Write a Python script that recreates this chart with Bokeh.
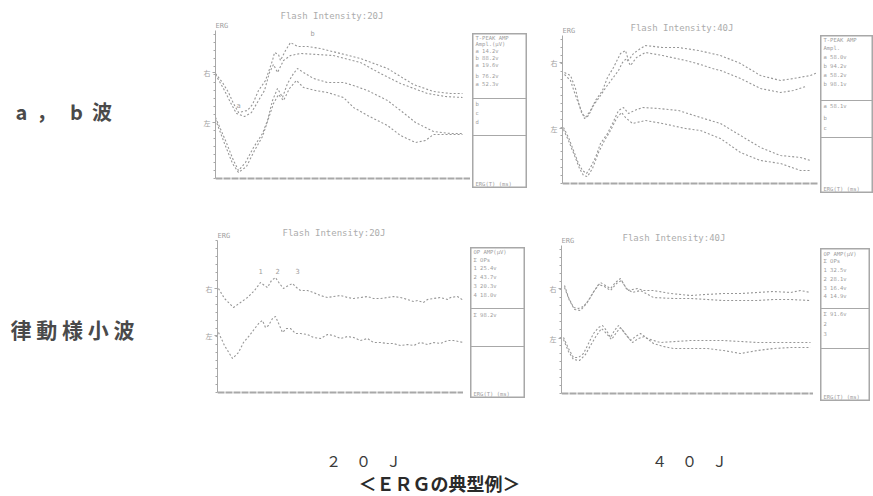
from bokeh.plotting import figure
from bokeh.layouts import row, column
from bokeh.models import Label, FixedTicker, Range1d, Span, Spacer
from bokeh.embed import file_html
from bokeh.resources import INLINE
from bokeh.core.properties import value

NB = "\u00a0"

# ---------------- texts ----------------
row_labels = ["a" + NB * 2 + "，" + NB * 3 + "b" + NB * 2 + "波", "律 動 様 小 波"]
flash_labels = ["２　０　Ｊ", "４　０　Ｊ"]
caption = "＜ＥＲＧの典型例＞"
panel_titles = ["Flash Intensity:20J", "Flash Intensity:40J",
                "Flash Intensity:20J", "Flash Intensity:40J"]
channel_labels = ["右", "左"]

# ---------------- a, b wave, 20 J (time ms, amplitude arbitrary) ----------------
tl_u1_t = [0, 7, 13, 18, 23, 32, 37, 43, 50, 57, 59, 63, 65, 70, 75, 82, 92, 105, 125, 145, 172, 198, 218, 235, 247]
tl_u1_v = [105, 96, 86, 75, 66, 68, 74, 88, 98, 118, 126, 124, 118, 128, 136, 132, 132, 130, 125, 120, 110, 94, 87, 85, 85]
tl_u2_t = [0, 8, 15, 21, 29, 36, 43, 49, 54, 58, 62, 68, 75, 85, 102, 118, 145, 165, 185, 212, 230, 247]
tl_u2_v = [104, 90, 76, 65, 62, 66, 78, 88, 106, 114, 106, 118, 123, 125, 124, 123, 116, 105, 95, 85, 82, 81]
tl_l1_t = [0, 10, 18, 23, 30, 38, 47, 52, 57, 62, 67, 72, 78, 82, 88, 98, 112, 128, 138, 152, 172, 185, 200, 218, 235, 247]
tl_l1_v = [61, 38, 18, 8, 16, 31, 45, 58, 78, 90, 81, 95, 105, 110, 106, 100, 96, 96, 93, 88, 78, 68, 56, 47, 45, 45]
tl_l2_t = [0, 9, 17, 23, 31, 39, 47, 53, 58, 63, 68, 74, 81, 88, 100, 112, 128, 138, 152, 172, 185, 200, 210, 218, 235, 247]
tl_l2_v = [59, 35, 15, 6, 12, 28, 42, 60, 75, 84, 78, 90, 98, 91, 88, 86, 81, 71, 63, 53, 43, 36, 38, 44, 44, 44]

# ---------------- a, b wave, 40 J ----------------
tr_u1_t = [2, 8, 13, 16, 19, 23, 28, 33, 40, 45, 51, 58, 63, 66, 71, 78, 83, 100, 116, 136, 158, 178, 198, 218, 231, 248, 255]
tr_u1_v = [111, 108, 95, 81, 71, 66, 73, 83, 93, 106, 116, 130, 133, 123, 130, 135, 138, 136, 136, 133, 128, 120, 108, 103, 105, 108, 111]
tr_u2_t = [2, 8, 13, 18, 22, 26, 31, 38, 44, 50, 56, 60, 64, 68, 74, 83, 100, 123, 138, 150, 158, 178, 198, 218, 231, 243]
tr_u2_v = [109, 103, 88, 75, 65, 68, 78, 88, 97, 105, 113, 121, 125, 118, 126, 131, 128, 123, 119, 115, 113, 105, 95, 91, 93, 97]
tr_l1_t = [1, 6, 11, 16, 20, 24, 28, 33, 38, 45, 50, 56, 61, 66, 72, 80, 96, 116, 138, 158, 178, 198, 218, 238, 248]
tr_l1_v = [56, 46, 33, 20, 13, 10, 16, 26, 40, 50, 60, 73, 76, 70, 73, 76, 75, 73, 66, 60, 48, 36, 28, 26, 23]
tr_l2_t = [1, 6, 12, 17, 21, 25, 30, 36, 42, 48, 54, 59, 63, 70, 83, 100, 123, 138, 158, 178, 198, 218, 238, 248]
tr_l2_v = [54, 43, 28, 15, 8, 7, 15, 31, 43, 53, 65, 71, 66, 60, 63, 60, 55, 53, 45, 31, 23, 20, 13, 13]

# ---------------- oscillatory potentials, 20 J ----------------
bl_u_t = [1, 7, 16, 23, 30, 37, 43, 47, 50, 54, 58, 62, 66, 71, 75, 79, 83, 90, 96, 103, 110, 116, 123, 130, 136,
          143, 150, 156, 163, 170, 176, 183, 190, 196, 200, 206, 210, 216, 223, 230, 233, 240, 246]
bl_u_v = [104, 94, 85, 90, 95, 102, 110, 107, 105, 112, 115, 109, 104, 107, 109, 105, 102, 102, 100, 97, 95, 96, 97, 95, 94,
          95, 96, 94, 94, 95, 96, 95, 93, 91, 92, 90, 93, 94, 95, 93, 95, 96, 92]
bl_l_t = [1, 7, 15, 21, 26, 32, 38, 42, 45, 48, 51, 55, 58, 62, 65, 69, 73, 78, 83, 90, 96, 103, 110, 116, 123,
          130, 136, 143, 150, 156, 163, 170, 176, 183, 190, 196, 203, 210, 216, 223, 230, 236, 246]
bl_l_v = [60, 47, 34, 40, 50, 57, 65, 70, 72, 65, 67, 74, 76, 67, 60, 64, 64, 59, 59, 58, 55, 54, 58, 57, 54,
          56, 55, 52, 54, 50, 50, 49, 49, 47, 48, 47, 50, 48, 50, 49, 52, 52, 50]

# ---------------- oscillatory potentials, 40 J ----------------
br_u1_t = [3, 7, 12, 17, 22, 27, 33, 39, 44, 49, 54, 59, 63, 66, 71, 76, 82, 92, 109, 129, 144, 162, 179, 196, 212, 229, 239, 249]
br_u1_v = [108, 96, 86, 85, 87, 93, 103, 111, 108, 105, 111, 115, 108, 103, 104, 105, 103, 103, 100, 98, 99, 100, 100, 101, 102, 101, 103, 101]
br_u2_t = [3, 8, 13, 19, 25, 31, 37, 43, 49, 55, 60, 65, 71, 79, 92, 112, 129, 146, 162, 179, 196, 212, 229, 249]
br_u2_v = [106, 93, 84, 83, 90, 100, 109, 107, 103, 110, 113, 105, 101, 103, 96, 95, 95, 94, 93, 93, 93, 94, 94, 93]
br_l1_t = [2, 7, 12, 17, 22, 27, 32, 37, 41, 45, 49, 53, 57, 63, 69, 74, 79, 86, 92, 99, 114, 129, 146, 162, 179, 196, 212, 229, 249]
br_l1_v = [56, 45, 36, 36, 40, 50, 60, 66, 68, 63, 56, 63, 68, 61, 53, 57, 60, 55, 53, 51, 52, 53, 53, 53, 52, 51, 51, 51, 51]
br_l2_t = [2, 7, 12, 18, 24, 29, 35, 40, 45, 50, 55, 59, 65, 71, 77, 83, 92, 102, 112, 129, 146, 162, 179, 196, 212, 229, 249]
br_l2_v = [54, 42, 34, 33, 39, 48, 58, 65, 60, 54, 61, 66, 58, 51, 55, 57, 50, 47, 45, 45, 45, 43, 40, 43, 45, 46, 46]

# channel baselines (right / left eye)
tl_bases = [106, 56]
tr_bases = [121, 55]
bl_bases = [104, 57]
br_bases = [105, 55]

# legend-box texts
tl_box = ["T-PEAK AMP", "Ampl.(μV)", "a  14.2v", "b  88.2v", "a  19.6v", "b  76.2v", "a  52.3v", "b", "c", "d"]
tr_box = ["T-PEAK AMP", "Ampl.", "a  58.0v", "b  94.2v", "a  58.2v", "b  98.1v", "a  58.1v", "b", "c"]
bl_box = ["OP AMP(μV)", "Σ OPs", "1  25.4v", "2  43.7v", "3  20.3v", "4  18.0v", "Σ  98.2v"]
br_box = ["OP AMP(μV)", "Σ OPs", "1  32.5v", "2  28.1v", "3  16.4v", "4  14.9v", "Σ  91.6v", "2", "3"]
box_foot = "ERG(T) (ms)"

TRACE = "#979797"
AXIS = "#a8a8a8"
FAINT = "#9e9e9e"
DARK = "#4a4a4a"


def blank(w, h):
    p = figure(width=w, height=h, x_range=Range1d(0, w), y_range=Range1d(h, 0), title=None,
               x_axis_location=None, y_axis_location=None, min_border=0,
               outline_line_color=None, toolbar_location=None, output_backend="svg")
    p.grid.visible = False
    return p


def panel(w, h, xmax, ytop, axis_top, bases, title, title_x, title_y, erg_y, traces, notes=()):
    # frame spans the whole figure height; data 0 sits 2 px above the frame bottom
    p = figure(width=w, height=h, x_range=Range1d(0, xmax), y_range=Range1d(-2, ytop), title=None,
               output_backend="svg", toolbar_location=None, x_axis_location=None,
               min_border_left=15, min_border_right=0, min_border_top=0, min_border_bottom=0,
               outline_line_color=None)
    p.grid.visible = False
    ya = p.yaxis[0]
    ya.bounds = (0, axis_top)
    ya.ticker = FixedTicker(ticks=bases, minor_ticks=list(range(0, axis_top + 1, 8)))
    ya.major_label_overrides = {bases[0]: channel_labels[0], bases[1]: channel_labels[1]}
    ya.major_label_text_font = "Noto Sans CJK JP"
    ya.major_label_text_font_size = "7px"
    ya.major_label_text_color = FAINT
    ya.major_label_standoff = 2
    ya.major_tick_in = 0
    ya.major_tick_out = 3
    ya.minor_tick_in = 0
    ya.minor_tick_out = 2
    ya.axis_line_color = AXIS
    ya.major_tick_line_color = AXIS
    ya.minor_tick_line_color = AXIS
    # time axis baseline
    p.add_layout(Span(location=0, dimension="width", line_color=AXIS, line_width=1.8, line_dash="7 1"))
    for t, v in traces:
        p.line(t, v, line_color=TRACE, line_width=1.1, line_dash="2 2")
    p.add_layout(Label(x=title_x, y=title_y, text=title, text_font="DejaVu Sans Mono",
                       text_font_size="9px", text_color="#acacac", text_baseline="middle"))
    p.add_layout(Label(x=0, y=erg_y, text="ERG", text_font="DejaVu Sans Mono",
                       text_font_size="7px", text_color=FAINT, text_baseline="middle"))
    for nx, ny, nt in notes:
        p.add_layout(Label(x=nx, y=ny, text=nt, text_font="DejaVu Sans Mono",
                           text_font_size="7px", text_color=FAINT, text_baseline="middle",
                           text_align="center"))
    return p


def legend_box(w, h, rows, offsets, lines):
    p = figure(width=w, height=h, x_range=Range1d(0, w), y_range=Range1d(h, 0), title=None,
               x_axis_location=None, y_axis_location=None, min_border=0,
               outline_line_color=AXIS, outline_line_width=2,
               toolbar_location=None, output_backend="svg")
    p.grid.visible = False
    p.text(x=3, y=offsets, text=rows, text_font=value("DejaVu Sans Mono"),
           text_font_size="5.5px", text_color=FAINT, text_baseline="middle")
    p.text(x=3, y=[h - 5], text=[box_foot], text_font=value("DejaVu Sans Mono"),
           text_font_size="5.5px", text_color=FAINT, text_baseline="middle")
    for ly in lines:
        p.add_layout(Span(location=ly, dimension="width", line_color=AXIS, line_width=1))
    return p


def offset(item, dy):
    return column(Spacer(width=item.width, height=dy), item)


# ---- top row ----
lab_top = blank(200, 200)
lab_top.add_layout(Label(x=15, y=111, text=row_labels[0], text_font="Noto Sans CJK JP",
                         text_font_size="20px", text_font_style="bold", text_color=DARK,
                         text_baseline="middle"))

tl = panel(270, 180, 255, 178, 148, tl_bases, panel_titles[0], 65, 163, 153,
           [(tl_u1_t, tl_u1_v), (tl_u2_t, tl_u2_v), (tl_l1_t, tl_l1_v), (tl_l2_t, tl_l2_v)],
           notes=[(23, 73, "a"), (97, 145, "b")])
tl_leg = legend_box(55, 155, tl_box, [4, 10, 17, 24, 31, 42, 50, 70, 79, 88], [65, 102])

tr = panel(271, 185, 256, 183, 148, tr_bases, panel_titles[1], 68, 156, 153,
           [(tr_u1_t, tr_u1_v), (tr_u2_t, tr_u2_v), (tr_l1_t, tr_l1_v), (tr_l2_t, tr_l2_v)])
tr_leg = legend_box(53, 158, tr_box, [4, 12, 21, 30, 39, 48, 70, 82, 92], [65, 102])

top_row = row(lab_top, tl, Spacer(width=2, height=200), offset(tl_leg, 33), Spacer(width=20, height=200),
              tr, Spacer(width=2, height=200), offset(tr_leg, 35))

# ---- bottom row ----
lab_bot = blank(202, 210)
lab_bot.add_layout(Label(x=10, y=128, text=row_labels[1], text_font="Noto Sans CJK JP",
                         text_font_size="21px", text_font_style="bold", text_color=DARK,
                         text_baseline="middle"))

bl = panel(261, 184, 246, 182, 152, bl_bases, panel_titles[2], 65, 160, 157,
           [(bl_u_t, bl_u_v), (bl_l_t, bl_l_v)],
           notes=[(43, 122, "1"), (60, 122, "2"), (80, 122, "3")])
bl_leg = legend_box(55, 151, bl_box, [4, 12, 20, 29, 38, 47, 67], [61, 99])

br = panel(267, 185, 252, 183, 148, br_bases, panel_titles[3], 61, 156, 153,
           [(br_u1_t, br_u1_v), (br_u2_t, br_u2_v), (br_l1_t, br_l1_v), (br_l2_t, br_l2_v)])
br_leg = legend_box(50, 153, br_box, [5, 12, 21, 30, 39, 47, 65, 75, 85], [60, 100])

bot_row = row(lab_bot, offset(bl, 10), Spacer(width=7, height=210), offset(bl_leg, 47),
              Spacer(width=21, height=210), offset(br, 10), Spacer(width=7, height=210),
              offset(br_leg, 48), Spacer(width=3, height=210))

# ---- captions ----
cap = blank(873, 86)
cap.add_layout(Label(x=363, y=50, text=flash_labels[0], text_font="Noto Sans CJK JP",
                     text_font_size="15px", text_color="#3a3a3a", text_align="center",
                     text_baseline="middle"))
cap.add_layout(Label(x=689, y=50, text=flash_labels[1], text_font="Noto Sans CJK JP",
                     text_font_size="15px", text_color="#3a3a3a", text_align="center",
                     text_baseline="middle"))
cap.add_layout(Label(x=439, y=72, text=caption, text_font="Noto Sans CJK JP",
                     text_font_size="18px", text_font_style="bold", text_color="#2a2a2a",
                     text_align="center", text_baseline="middle"))

layout = column(top_row, bot_row, cap)

open("out.html", "w").write(file_html(layout, INLINE))
